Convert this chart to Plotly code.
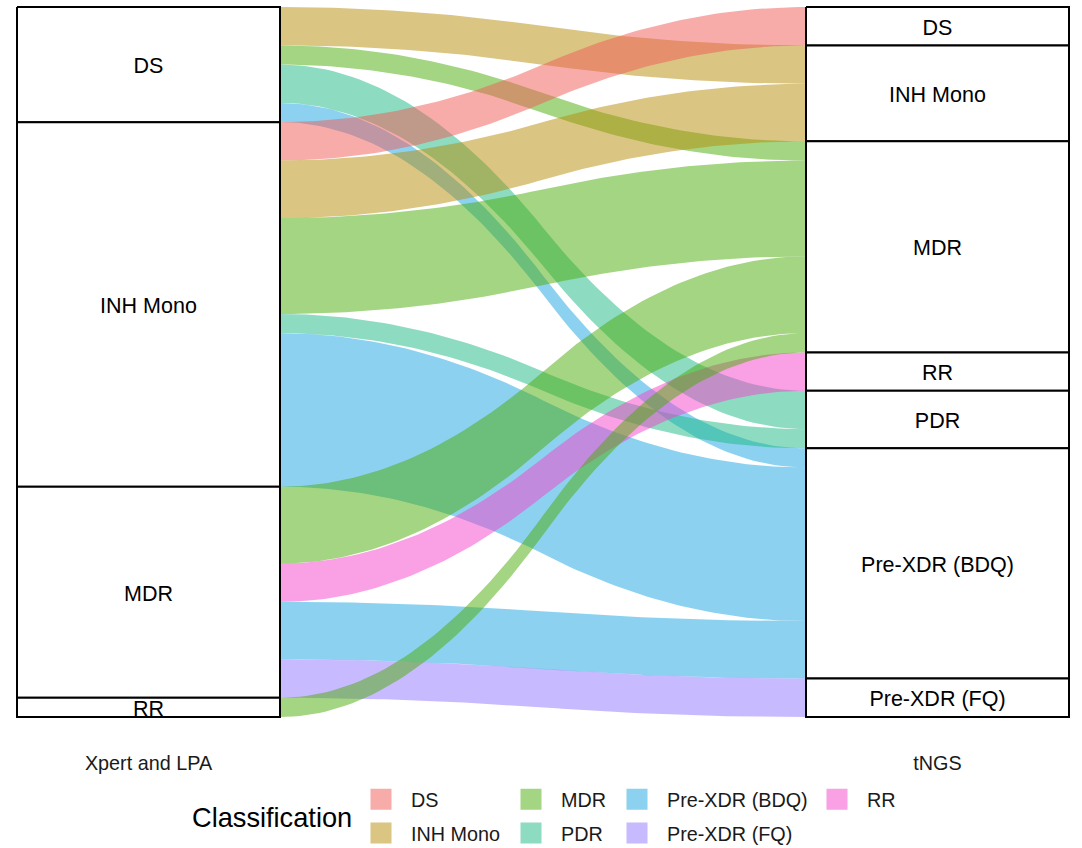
import plotly.graph_objects as go

# ---------------- data ----------------
axis_labels = ["Xpert and LPA", "tNGS"]
left_levels = ["DS", "INH Mono", "MDR", "RR"]
right_levels = ["DS", "INH Mono", "MDR", "RR", "PDR", "Pre-XDR (BDQ)", "Pre-XDR (FQ)"]

flow_from = ["DS", "DS", "DS", "DS",
             "INH Mono", "INH Mono", "INH Mono", "INH Mono", "INH Mono",
             "MDR", "MDR", "MDR", "MDR",
             "RR"]
flow_to = ["INH Mono", "MDR", "PDR", "Pre-XDR (BDQ)",
           "DS", "INH Mono", "MDR", "PDR", "Pre-XDR (BDQ)",
           "MDR", "RR", "Pre-XDR (BDQ)", "Pre-XDR (FQ)",
           "MDR"]
flow_n = [2, 1, 2, 1,
          2, 3, 5, 1, 8,
          4, 2, 3, 2,
          1]

classes = ["DS", "INH Mono", "MDR", "PDR", "Pre-XDR (BDQ)", "Pre-XDR (FQ)", "RR"]
class_colors = ["#F15955", "#B58B07", "#49AB05", "#1BB781", "#19A5E1", "#9175FD", "#F541C9"]
legend_columns = [["DS", "INH Mono"], ["MDR", "PDR"], ["Pre-XDR (BDQ)", "Pre-XDR (FQ)"], ["RR"]]

ALPHA = 0.5
FONT = "Liberation Sans, Arial, Helvetica, sans-serif"


def hex_rgb(h):
    h = h.lstrip("#")
    return tuple(int(h[i:i + 2], 16) for i in (0, 2, 4))


def rgba(h, a):
    r, g, b = hex_rgb(h)
    return f"rgba({r},{g},{b},{a})"


def on_white(h, a):
    r, g, b = hex_rgb(h)
    return "#%02x%02x%02x" % tuple(round(255 - a * (255 - c)) for c in (r, g, b))


color_of = dict(zip(classes, class_colors))

# ---------------- stacking ----------------
idx = list(range(len(flow_n)))
total = sum(flow_n)
left_span, right_span = {}, {}
left_bounds, right_bounds = {}, {}
y = 0
for L in left_levels:
    s = y
    for R in right_levels:
        for i in idx:
            if flow_from[i] == L and flow_to[i] == R:
                left_span[i] = (y, y + flow_n[i])
                y += flow_n[i]
    left_bounds[L] = (s, y)
y = 0
for R in right_levels:
    s = y
    for L in left_levels:
        for i in idx:
            if flow_from[i] == L and flow_to[i] == R:
                right_span[i] = (y, y + flow_n[i])
                y += flow_n[i]
    right_bounds[R] = (s, y)

W = 1 / 3
xL0, xL1 = 1 - W / 2, 1 + W / 2
xR0, xR1 = 2 - W / 2, 2 + W / 2


def ease(t):
    return 2 * t * t if t < 0.5 else 1 - 2 * (1 - t) ** 2


N = 80
ts = [k / N for k in range(N + 1)]

# ---------------- geometry of the page ----------------
WIDTH, HEIGHT = 1082, 848
ml, mr, mt, mb = 15, 11, 5, 129
plot_w = WIDTH - ml - mr
plot_h = HEIGHT - mt - mb
padx = 2 * (xR1 - xL0) / (plot_w - 4)
pady = 2 * total / (plot_h - 4)
unit_px = (plot_h - 4) / total
label_dy = 3 / unit_px  # small downward nudge of stratum labels

fig = go.Figure()

# flows
for i in idx:
    (a0, b0), (a1, b1) = left_span[i], right_span[i]
    xs = [xL1 + (xR0 - xL1) * t for t in ts]
    top = [a0 + (a1 - a0) * ease(t) for t in ts]
    bot = [b0 + (b1 - b0) * ease(t) for t in ts]
    fig.add_trace(go.Scatter(
        x=xs + xs[::-1] + [xs[0]], y=top + bot[::-1] + [top[0]],
        mode="lines", fill="toself", line=dict(width=0),
        fillcolor=rgba(color_of[flow_to[i]], ALPHA),
        hoverinfo="skip", showlegend=False))

# strata
lab_x, lab_y, lab_t = [], [], []
for bounds, (x0, x1), xc in [(left_bounds, (xL0, xL1), 1), (right_bounds, (xR0, xR1), 2)]:
    for name, (s, e) in bounds.items():
        fig.add_trace(go.Scatter(
            x=[x0, x1, x1, x0, x0], y=[s, s, e, e, s],
            mode="lines", fill="toself", fillcolor="white",
            line=dict(color="black", width=2),
            hoverinfo="skip", showlegend=False))
        lab_x.append(xc)
        lab_y.append((s + e) / 2 + label_dy)
        lab_t.append(name)

fig.add_trace(go.Scatter(
    x=lab_x, y=lab_y, text=lab_t, mode="text",
    textfont=dict(family=FONT, size=21.5, color="black"),
    cliponaxis=False, hoverinfo="skip", showlegend=False))

# legend entries
legend_ids = ["legend", "legend2", "legend3", "legend4"]
for lid, col in zip(legend_ids, legend_columns):
    for cls in col:
        c = on_white(color_of[cls], ALPHA)
        fig.add_trace(go.Scatter(
            x=[None], y=[None], mode="markers", name=cls,
            legend=lid, legendgroup=cls,
            marker=dict(symbol="square", size=16, color=c, line=dict(color=c, width=5)),
            showlegend=True))


def px_x(p):
    return (p - ml) / plot_w


def px_y(p):
    return (HEIGHT - mb - p) / plot_h


legend_lefts = [351, 501, 607, 807]
legend_layout = {}
for lid, xl in zip(legend_ids, legend_lefts):
    legend_layout[lid] = dict(
        x=px_x(xl), y=px_y(780), xanchor="left", yanchor="top",
        orientation="v", itemwidth=50, tracegroupgap=5,
        bgcolor="rgba(0,0,0,0)", borderwidth=0,
        font=dict(family=FONT, size=19.8, color="#1a1a1a"),
        itemclick=False, itemdoubleclick=False)

fig.update_layout(
    width=WIDTH, height=HEIGHT,
    margin=dict(l=ml, r=mr, t=mt, b=mb, autoexpand=False),
    paper_bgcolor="white", plot_bgcolor="white",
    font=dict(family=FONT, color="black"),
    xaxis=dict(range=[xL0 - padx, xR1 + padx], tickvals=[1, 2], ticktext=axis_labels,
               showgrid=False, zeroline=False, showline=False, ticks="",
               tickfont=dict(family=FONT, size=19.8, color="#1a1a1a"),
               ticklabelstandoff=30, fixedrange=True),
    yaxis=dict(range=[total + pady, -pady], visible=False, fixedrange=True),
    showlegend=True,
    annotations=[dict(text="Classification", xref="paper", yref="paper",
                      x=px_x(190), y=px_y(817), xanchor="left", yanchor="middle",
                      showarrow=False, font=dict(family=FONT, size=27.2, color="black"))],
    **legend_layout,
)

fig.write_html("out.html", config={"displayModeBar": False},
               post_script="document.body.style.margin='0';document.body.style.overflow='hidden';")
